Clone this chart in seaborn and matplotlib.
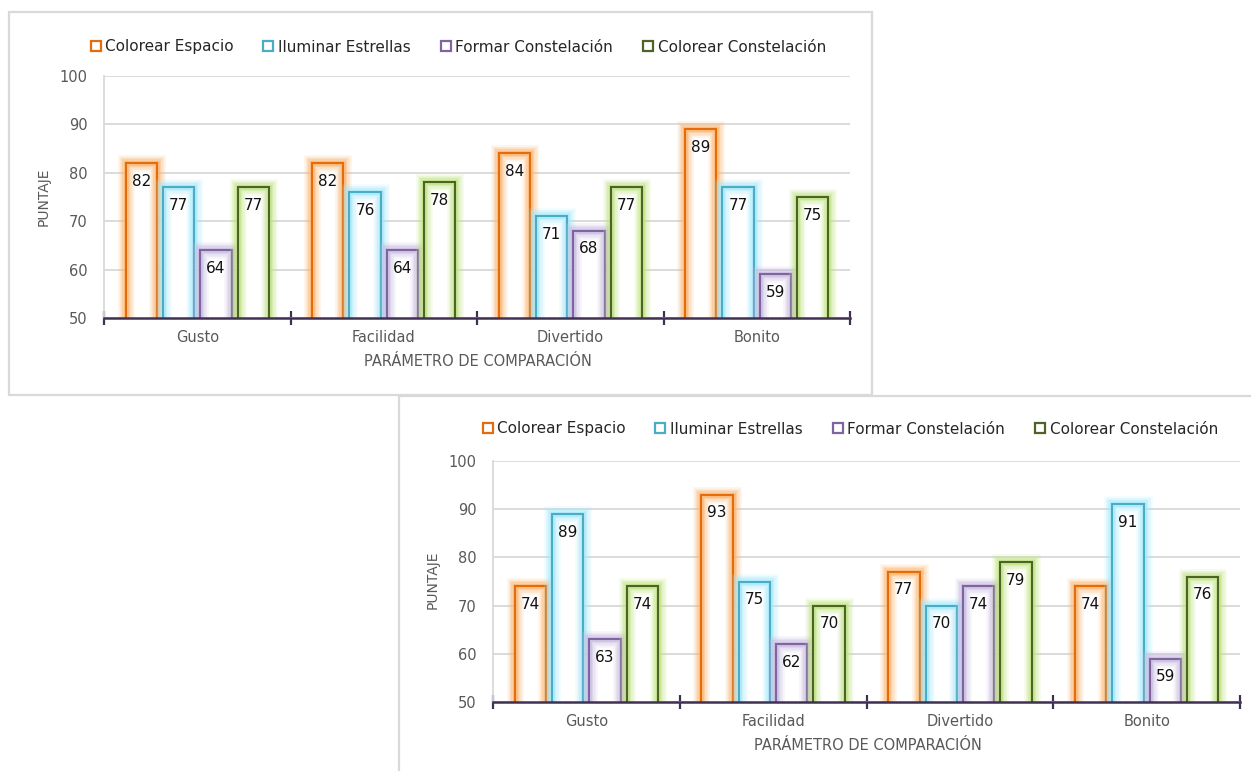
import numpy as np
import pandas as pd
import matplotlib
matplotlib.use("Agg")
import matplotlib.pyplot as plt
import matplotlib.patheffects as pe
from matplotlib.lines import Line2D
from matplotlib.patches import Rectangle
import seaborn as sns

categories = ["Gusto", "Facilidad", "Divertido", "Bonito"]
series = ["Colorear Espacio", "Iluminar Estrellas", "Formar Constelación", "Colorear Constelación"]

# first evaluation
colorear_espacio_1 = [82, 82, 84, 89]
iluminar_estrellas_1 = [77, 76, 71, 77]
formar_constelacion_1 = [64, 64, 68, 59]
colorear_constelacion_1 = [77, 78, 77, 75]

# second evaluation
colorear_espacio_2 = [74, 93, 77, 74]
iluminar_estrellas_2 = [89, 75, 70, 91]
formar_constelacion_2 = [63, 62, 74, 59]
colorear_constelacion_2 = [74, 70, 79, 76]

yticks = [50, 60, 70, 80, 90, 100]

edge_colors = ["#E46C0A", "#4BACC6", "#8064A2", "#4F6228"]
glow_colors = ["#FBB46E", "#A6E8FA", "#C9BBE0", "#BDE37E"]

AXIS_COLOR = "#403152"
GRID_COLOR = "#D9D9D9"
TEXT_GRAY = "#595959"

sns.set_theme(style="white")
plt.rcParams["font.family"] = ["DejaVu Sans"]

W, H = 1251, 771
fig = plt.figure(figsize=(W / 100, H / 100), dpi=100)


def fx(px):
    return px / W


def fy(py):
    return 1 - py / H


def long_frame(values):
    rows = []
    for name, vals in zip(series, values):
        for cat, v in zip(categories, vals):
            rows.append({"Parámetro": cat, "Actividad": name, "Puntaje": v})
    return pd.DataFrame(rows)


def draw_chart(rect, values, legend_center, xlabel_pos, ylabel_pos):
    ax = fig.add_axes(rect)
    ax.set_facecolor("none")
    df = long_frame(values)
    sns.barplot(data=df, x="Parámetro", y="Puntaje", hue="Actividad",
                order=categories, hue_order=series, palette=edge_colors,
                fill=False, linewidth=1.5, width=0.8, gap=0.16,
                errorbar=None, legend=False, ax=ax)

    for container, edge, glow in zip(ax.containers, edge_colors, glow_colors):
        for bar in container:
            bar.set_edgecolor(edge)
            bar.set_facecolor("none")
            bar.set_zorder(2)
            bar.set_path_effects([
                pe.Stroke(linewidth=12, foreground=glow, alpha=0.15),
                pe.Stroke(linewidth=9, foreground=glow, alpha=0.25),
                pe.Stroke(linewidth=6, foreground=glow, alpha=0.4),
                pe.Stroke(linewidth=3.5, foreground=glow, alpha=0.6),
                pe.Normal(),
            ])
            # white interior so gridlines do not show through the bar
            ax.add_patch(Rectangle(bar.get_xy(), bar.get_width(), bar.get_height(),
                                   facecolor="white", edgecolor="none", zorder=1.5))
            top = bar.get_y() + bar.get_height()
            ax.annotate(f"{top:.0f}", (bar.get_x() + bar.get_width() / 2, top),
                        xytext=(0, -13), textcoords="offset points",
                        ha="center", va="center", fontsize=11, color="#111111",
                        zorder=5)

    ax.set_ylim(50, 100)
    ax.set_xlim(-0.5, len(categories) - 0.5)
    ax.set_yticks(yticks)
    ax.set_yticklabels([str(t) for t in yticks], fontsize=10.5, color=TEXT_GRAY)
    ax.tick_params(axis="y", length=0, pad=12)

    # group boundaries as crossing ticks, category names centred between them
    ax.set_xticks(np.arange(-0.5, len(categories)), labels=[""] * (len(categories) + 1))
    ax.set_xticks(np.arange(len(categories)), labels=categories, minor=True)
    ax.tick_params(axis="x", which="major", bottom=True, direction="inout",
                   length=10, width=1.6, color=AXIS_COLOR)
    ax.tick_params(axis="x", which="minor", bottom=True, length=0, pad=9,
                   labelsize=10.5, labelcolor=TEXT_GRAY)

    ax.yaxis.grid(True, color=GRID_COLOR, linewidth=1.3)
    ax.xaxis.grid(False)
    ax.set_axisbelow(True)
    for side in ("top", "right"):
        ax.spines[side].set_visible(False)
    ax.spines["left"].set_color(GRID_COLOR)
    ax.spines["left"].set_linewidth(1.3)
    ax.spines["bottom"].set_color(AXIS_COLOR)
    ax.spines["bottom"].set_linewidth(1.8)
    ax.spines["bottom"].set_zorder(3)
    ax.set_xlabel("")
    ax.set_ylabel("")

    fig.text(fx(xlabel_pos[0]), fy(xlabel_pos[1]), "PARÁMETRO DE COMPARACIÓN",
             ha="center", va="center", fontsize=10.5, color=TEXT_GRAY)
    fig.text(fx(ylabel_pos[0]), fy(ylabel_pos[1]), "PUNTAJE", rotation=90,
             ha="center", va="center", fontsize=10, color=TEXT_GRAY)

    handles = [Line2D([], [], marker="s", linestyle="none", markersize=7.5,
                      markerfacecolor="white", markeredgecolor=c, markeredgewidth=1.6)
               for c in edge_colors]
    fig.legend(handles, series, loc="center",
               bbox_to_anchor=(fx(legend_center[0]), fy(legend_center[1])),
               ncol=4, frameon=False, fontsize=11, handlelength=0.7,
               handletextpad=0.3, columnspacing=1.9, borderaxespad=0)
    return ax


# chart frames, drawn beneath the axes
fig.patches.append(Rectangle((fx(9), fy(395)), fx(872) - fx(9), fy(12) - fy(395),
                             transform=fig.transFigure, facecolor="white",
                             edgecolor=GRID_COLOR, linewidth=1.6, zorder=-2))
fig.patches.append(Rectangle((fx(399), fy(790)), fx(1280) - fx(399), fy(396) - fy(790),
                             transform=fig.transFigure, facecolor="white",
                             edgecolor=GRID_COLOR, linewidth=1.6, zorder=-2))

draw_chart([fx(104), fy(318), fx(850) - fx(104), fy(76) - fy(318)],
           [colorear_espacio_1, iluminar_estrellas_1, formar_constelacion_1, colorear_constelacion_1],
           legend_center=(458, 47), xlabel_pos=(478, 362), ylabel_pos=(44, 197))

draw_chart([fx(493), fy(702), fx(1240) - fx(493), fy(461) - fy(702)],
           [colorear_espacio_2, iluminar_estrellas_2, formar_constelacion_2, colorear_constelacion_2],
           legend_center=(850, 429), xlabel_pos=(868, 746), ylabel_pos=(433, 580))

fig.savefig("out.png", dpi=100, facecolor="white")
